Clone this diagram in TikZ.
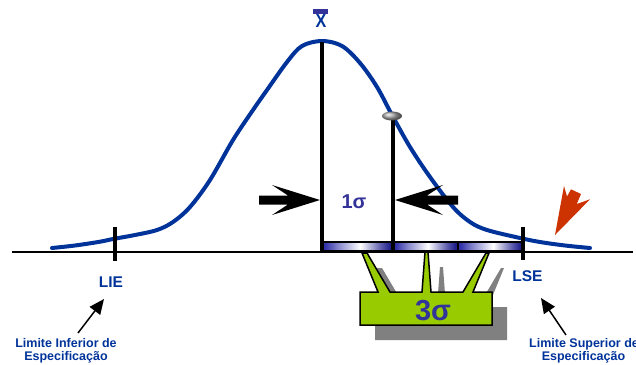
\documentclass[tikz,border=0pt]{standalone}
\usepackage{fontspec}
\setmainfont{Liberation Sans}
\usetikzlibrary{arrows.meta,shapes.geometric}
\definecolor{curveblue}{RGB}{0,51,153}
\definecolor{sigblue}{RGB}{51,51,153}
\definecolor{calgreen}{RGB}{153,204,0}
\definecolor{shadowgray}{RGB}{128,128,128}
\definecolor{redarrow}{RGB}{204,51,0}
\definecolor{barL}{RGB}{50,50,170}
\definecolor{barR}{RGB}{30,30,140}
\pgfdeclarehorizontalshading{barsh}{100bp}{color(0bp)=(barL); color(27bp)=(barL); color(36bp)=(barL!60!white); color(52bp)=(white); color(66bp)=(barR!70!white); color(73bp)=(barR); color(100bp)=(barR)}
\tikzset{
  lbl/.style={font=\bfseries\fontsize{15.5}{15.5}\selectfont, text=curveblue, inner sep=0pt},
  small/.style={font=\bfseries\fontsize{12.5}{14}\selectfont, text=curveblue, inner sep=0pt, anchor=base},
  sig/.style={font=\bfseries, text=sigblue, inner sep=0pt},
  vline/.style={line width=3.3pt},
  tick/.style={line width=3.3pt},
  barseg/.style={draw=black, line width=1.5pt, shading=barsh},
  fatarrow/.style={fill=black},
  pointer/.style={line width=1.5pt, -{Triangle[length=15pt,width=13pt]}},
}
\begin{document}
\begin{tikzpicture}[x=1pt,y=-1pt]
\useasboundingbox (0,0) rectangle (636,364);
% baseline
\draw[line width=2.3pt] (12,252) coordinate (b0) -- (633,252) coordinate (b1);
% sigma bar
\draw[barseg] (322,242) rectangle (393,251);
\draw[barseg] (393,242) rectangle (458,251);
\draw[barseg] (458,242) rectangle (523,251);
% curve
\draw[curveblue, line width=4pt, line cap=round] plot[smooth, tension=0.55] coordinates {
 (52,248) (75,245.5) (100,241.7) (113,239) (135,235) (157,230) (173,222) (190,207) (210,180) (233,140) (253,110) (267,90) (287,62) (302,46) (322,41)
 (342,46) (360,63) (377,87) (392,115) (410,147) (430,177) (453,207) (470,222) (487,230) (520,238) (540,242) (565,245.5) (590,248)};
% vertical lines
\draw[vline] (322,252) coordinate (m0) -- (322,42) coordinate (m1);
\draw[vline] (393,252) coordinate (s0) -- (393,118) coordinate (s1);
\shade[ball color=gray!70] (392,116) ellipse [x radius=10, y radius=4.5];
% ticks
\draw[tick] (115,227) -- (115,261);
\draw[tick] (523,227) -- (523,260);
% fat arrows
\fill[fatarrow] (259,195.5) -- (288,195.5) -- (272,185) -- (320,200) -- (272,215) -- (288,204.5) -- (259,204.5) -- cycle;
\fill[fatarrow] (458,195.5) -- (427,195.5) -- (443,185) -- (395,200) -- (443,215) -- (427,204.5) -- (458,204.5) -- cycle;
% red lightning arrow
\fill[redarrow] (555,235) -- (564,186) -- (567,196.5) -- (571,189.3) -- (581,194) -- (576.7,204) -- (590,199.3) -- cycle;
% callout shadow
\fill[shadowgray, shift={(15,15)}] (360,292) -- (378,292) -- (362,253) -- (367,253) -- (390,292) -- (422,292) -- (425,252) -- (428,252) -- (431,292) -- (463,292) -- (486,253) -- (489,253) -- (473,292) -- (492,292) -- (492,325) -- (360,325) -- cycle;
% callout
\draw[fill=calgreen, line width=1.5pt, line join=miter] (360,292) -- (378,292) -- (362,253) -- (367,253) -- (390,292) -- (422,292) -- (425,252) -- (428,252) -- (431,292) -- (463,292) -- (486,253) -- (489,253) -- (473,292) -- (492,292) -- (492,325) -- (360,325) -- cycle;
\node[sig, font=\bfseries\fontsize{29}{29}\selectfont] (three) at (433,310.5) {3σ};
% sigma label
\node[sig, font=\bfseries\fontsize{20}{20}\selectfont] (one) at (354,201.5) {1σ};
% X bar
\node[inner sep=0pt, text=curveblue, font=\bfseries\fontsize{19}{19}\selectfont, xscale=0.85] (xbar) at (321,21.3) {X};
\fill[sigblue] (313.3,9.3) rectangle (327.7,13.6);
% labels
\node[lbl] (lie) at (111,282) {LIE};
\node[lbl] (lse) at (527.5,276.5) {LSE};
\node[small] (lie1) at (66,347) {Limite Inferior de};
\node[small] (lie2) at (66,360.5) {Especificação};
\node[small] (lse1) at (584,347) {Limite Superior de};
\node[small] (lse2) at (583.5,360.5) {Especificação};
\coordinate (lieT) at (78,333);
\coordinate (lieH) at (104,299);
\coordinate (lseT) at (566,335);
\coordinate (lseH) at (541,298);
\draw[pointer] (lieT) -- (lieH);
\draw[pointer] (lseT) -- (lseH);
\end{tikzpicture}
\end{document}
